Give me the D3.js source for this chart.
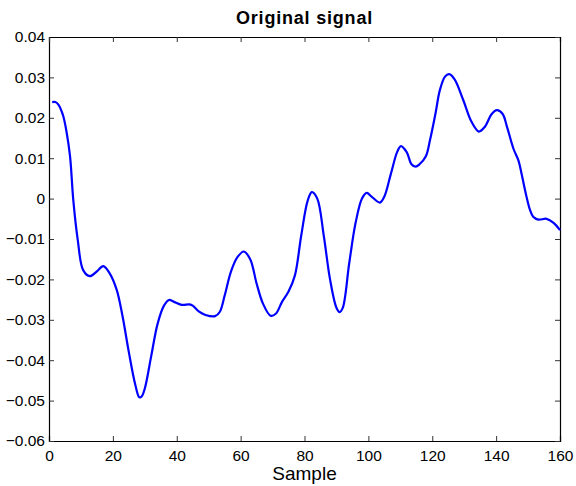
<!DOCTYPE html>
<html>
<head>
<meta charset="utf-8">
<script src="https://cdn.jsdelivr.net/npm/d3@7"></script>
<style>
body { margin: 0; background: #fff; }
text { font-family: "Liberation Sans", Arial, sans-serif; }
</style>
</head>
<body>
<div id="chart"></div>
<script>
var margin = { top: 37, right: 16, bottom: 45, left: 49 },
    width = 576 - margin.left - margin.right,
    height = 486 - margin.top - margin.bottom;

// sample index and signal value
var samples = [1, 2, 3, 4, 4.5, 5.5, 6.6, 7.6, 9, 10.7, 12.8, 15, 17, 19, 21.2, 23, 25, 27, 28.3, 29, 30, 32, 34, 36, 37.6,
    39, 41.5, 44, 45, 47, 49, 52, 53.5, 55, 57, 59, 61, 63, 65, 67, 69.4, 71, 73, 75, 77, 79, 81, 82.3, 84, 86, 88, 90,
    91, 92, 94, 96, 98, 99.5, 101, 103.6, 105, 107, 109, 110.2, 112, 113.5, 114.8, 116, 118, 119.3, 121, 122.4, 124,
    125.3, 127, 129.7, 132.3, 134.6, 136.5, 138.5, 140.2, 142, 143.5, 145.4, 147, 148, 149.5, 150.6, 151.6, 153.2,
    155.8, 158, 160];
var values = [0.0239, 0.0239, 0.0232, 0.0215, 0.0203, 0.0165, 0.0104, -0.0003, -0.0102, -0.0177, -0.0192, -0.018,
    -0.0167, -0.0185, -0.0226, -0.029, -0.038, -0.046, -0.0492, -0.049, -0.047, -0.039, -0.031, -0.0265, -0.0251,
    -0.0255, -0.0263, -0.0262, -0.0265, -0.028, -0.0288, -0.0291, -0.028, -0.024, -0.018, -0.0145, -0.0131, -0.015, -0.021,
    -0.026, -0.029, -0.0285, -0.0255, -0.023, -0.019, -0.009, -0.0005, 0.0016, 0.0, -0.009, -0.020, -0.027,
    -0.0281, -0.027, -0.016, -0.006, 0.0, 0.0014, 0.0005, -0.001, 0.0005, 0.006, 0.0115, 0.013, 0.0115, 0.0085, 0.0079,
    0.0085, 0.0105, 0.0145, 0.021, 0.0269, 0.0302, 0.0308, 0.0295, 0.0244, 0.019, 0.0166, 0.0178, 0.0208, 0.0219,
    0.021, 0.0175, 0.0124, 0.0094, 0.006, 0.0005, -0.0028, -0.0045, -0.0052, -0.005, -0.006, -0.0078];

var xTicks = [0, 20, 40, 60, 80, 100, 120, 140, 160];
var yTicks = [-0.06, -0.05, -0.04, -0.03, -0.02, -0.01, 0, 0.01, 0.02, 0.03, 0.04];

var dataset = samples.map((s, i) => ({ sample: s, value: values[i] }));

var x = d3.scaleLinear().domain([0, 160]).range([0, width]);
var y = d3.scaleLinear().domain([-0.06, 0.04]).range([height, 0]);

var svg = d3.select('#chart')
    .append('svg')
    .attr('width', width + margin.left + margin.right)
    .attr('height', height + margin.top + margin.bottom);

var plot = svg.append('g')
    .attr('transform', `translate(${margin.left}, ${margin.top})`);

var fmtY = d => d === 0 ? '0' : d3.format('.2f')(d).replace('-', '\u2212');

// axes with inward ticks, MATLAB style box
plot.append('g')
    .attr('class', 'axis x')
    .attr('transform', `translate(0, ${height})`)
    .call(d3.axisBottom(x).tickValues(xTicks).tickSize(-5).tickPadding(9).tickFormat(d3.format('d')));

plot.append('g')
    .attr('class', 'axis y')
    .call(d3.axisLeft(y).tickValues(yTicks).tickSize(-5).tickPadding(4).tickFormat(fmtY));

plot.append('g')
    .attr('class', 'axis top')
    .call(d3.axisTop(x).tickValues(xTicks).tickSize(-5).tickFormat(''));

plot.append('g')
    .attr('class', 'axis right')
    .attr('transform', `translate(${width}, 0)`)
    .call(d3.axisRight(y).tickValues(yTicks).tickSize(-5).tickFormat(''));

plot.selectAll('.axis text')
    .attr('font-size', 15.5)
    .attr('fill', '#000')
    .style('font-family', '"Liberation Sans", Arial, sans-serif');
plot.selectAll('.axis .domain').attr('stroke', '#000').attr('stroke-width', 1.2);
plot.selectAll('.axis .tick line').attr('stroke', '#333');

var line = d3.line()
    .x(d => x(d.sample))
    .y(d => y(d.value))
    .curve(d3.curveCatmullRom.alpha(0.5));

plot.append('path')
    .datum(dataset)
    .attr('fill', 'none')
    .attr('stroke', '#0000ff')
    .attr('stroke-width', 2.2)
    .attr('d', line);

// title
svg.append('text')
    .attr('x', margin.left + width / 2)
    .attr('y', 24)
    .attr('text-anchor', 'middle')
    .attr('font-size', 18)
    .attr('font-weight', 'bold')
    .attr('letter-spacing', 0.8)
    .text('Original signal');

// x label
svg.append('text')
    .attr('x', margin.left + width / 2)
    .attr('y', 480)
    .attr('text-anchor', 'middle')
    .attr('font-size', 19)
    .text('Sample');
</script>
</body>
</html>
